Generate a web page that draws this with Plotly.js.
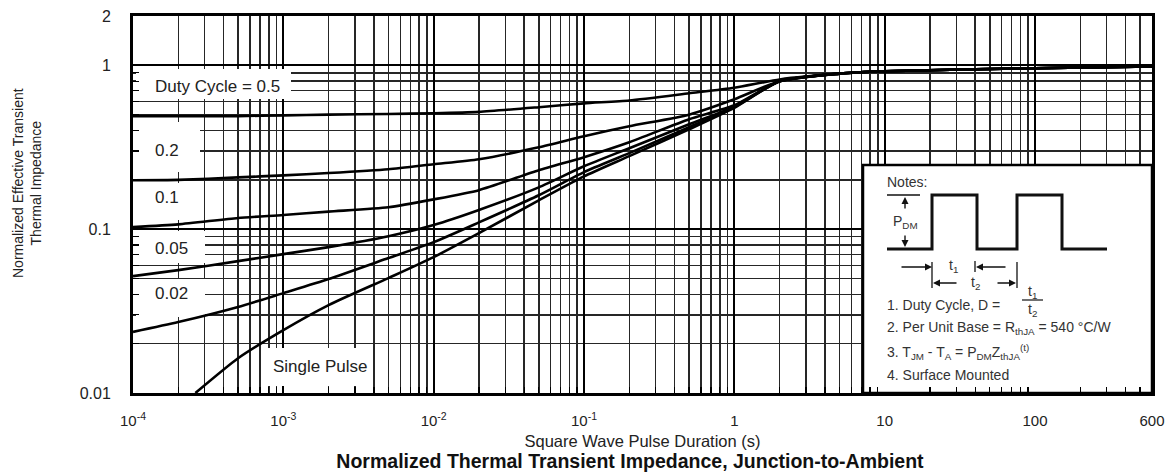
<!DOCTYPE html>
<html>
<head>
<meta charset="utf-8">
<script src="https://cdn.plot.ly/plotly-3.0.1.min.js"></script>
<style>html,body{margin:0;padding:0;background:#fff;}#chart{width:1168px;height:474px;}</style>
</head>
<body>
<div id="chart"></div>
<script>
// ---- data ----
const pulseDuration = [1e-4, 2e-4, 5e-4, 1e-3, 2e-3, 5e-3, 1e-2, 2e-2, 5e-2, 0.1, 0.2, 0.5, 1, 2, 5, 10, 100, 600];
const duty05 = [0.49, 0.49, 0.49, 0.495, 0.50, 0.505, 0.51, 0.52, 0.555, 0.586, 0.61, 0.675, 0.73, 0.82, 0.89, 0.92, 0.96, 0.985];
const duty02 = [0.199, 0.20, 0.207, 0.213, 0.22, 0.232, 0.249, 0.267, 0.316, 0.369, 0.425, 0.50, 0.62, 0.80, 0.89, 0.92, 0.96, 0.985];
const duty01 = [0.103, 0.107, 0.117, 0.122, 0.128, 0.136, 0.152, 0.173, 0.229, 0.275, 0.339, 0.469, 0.57, 0.80, 0.89, 0.92, 0.96, 0.985];
const duty005 = [0.0517, 0.0562, 0.0638, 0.0704, 0.0777, 0.0906, 0.106, 0.131, 0.18, 0.242, 0.312, 0.437, 0.56, 0.80, 0.89, 0.92, 0.96, 0.985];
const duty002 = [0.0236, 0.0271, 0.0335, 0.0407, 0.0496, 0.0666, 0.0833, 0.11, 0.161, 0.223, 0.291, 0.419, 0.555, 0.80, 0.89, 0.92, 0.96, 0.985];
const singleDuration = [2.6e-4, 5e-4, 1e-3, 2e-3, 5e-3, 1e-2, 2e-2, 5e-2, 0.1, 0.2, 0.5, 1, 2, 5, 10, 100, 600];
const singlePulse = [0.01, 0.0163, 0.0242, 0.0344, 0.0503, 0.0675, 0.0945, 0.15, 0.21, 0.279, 0.407, 0.55, 0.80, 0.89, 0.92, 0.96, 0.985];

const xTickVals = [1e-4, 1e-3, 1e-2, 1e-1, 1, 10, 100, 600];
const xTickText = ['10<sup>-4</sup>', '10<sup>-3</sup>', '10<sup>-2</sup>', '10<sup>-1</sup>', '1', '10', '100', '600'];
const yTickVals = [0.01, 0.1, 1, 2];
const yTickText = ['0.01', '0.1', '1', '2'];

// ---- layout helpers ----
const L = 133, R = 1152, T = 16, B = 393;
const XLO = -4, XHI = Math.log10(600), YLO = -2, YHI = Math.log10(2);
const px = x => (x - L) / (R - L);
const py = y => (B - y) / (B - T);
const dx = x => Math.pow(10, XLO + px(x) * (XHI - XLO));
const dy = y => Math.pow(10, YLO + py(y) * (YHI - YLO));
const FONT = 'Liberation Sans, Arial, Helvetica, sans-serif';
const TXT = '#222';

function minorVals(lo, hi) {
  const v = [];
  for (let e = lo; e < hi; e++) for (let d = 2; d <= 9; d++) v.push(d * Math.pow(10, e));
  return v;
}

const curveLine = {color: '#000', width: 2.6, shape: 'spline', smoothing: 0.6};
const traces = [
  {x: pulseDuration, y: duty05, name: 'D = 0.5'},
  {x: pulseDuration, y: duty02, name: 'D = 0.2'},
  {x: pulseDuration, y: duty01, name: 'D = 0.1'},
  {x: pulseDuration, y: duty005, name: 'D = 0.05'},
  {x: pulseDuration, y: duty002, name: 'D = 0.02'},
  {x: singleDuration, y: singlePulse, name: 'Single Pulse'}
].map(t => Object.assign({type: 'scatter', mode: 'lines', line: curveLine, hoverinfo: 'x+y+name'}, t));

function box(x0, y0, x1, y1, border) {
  return {type: 'rect', xref: 'x', yref: 'y', x0: dx(x0), x1: dx(x1), y0: dy(y1), y1: dy(y0),
    fillcolor: '#fff', line: {color: '#000', width: border ? 2.5 : 0}, layer: 'between'};
}
function seg(pts, w) {
  let d = pts.map((p, i) => (i ? 'L' : 'M') + px(p[0]) + ',' + py(p[1])).join(' ');
  return {type: 'path', xref: 'paper', yref: 'paper', path: d, line: {color: '#111', width: w}, layer: 'above'};
}
function txt(text, x, y, size, anchor, color) {
  return {xref: 'paper', yref: 'paper', x: px(x), y: py(y), text: text, showarrow: false,
    xanchor: anchor || 'left', yanchor: 'middle', font: {family: FONT, size: size, color: color || TXT}};
}
function arrow(tipX, tipY, tailX, tailY) {
  return {xref: 'paper', yref: 'paper', x: px(tipX), y: py(tipY), ax: tailX - tipX, ay: tailY - tipY,
    text: '', showarrow: true, arrowhead: 2, arrowsize: 1, arrowwidth: 1.4, arrowcolor: '#111'};
}

const shapes = [
  box(136, 69, 291, 99),
  box(136, 122, 200, 172),
  box(136, 183, 203, 220),
  box(136, 231, 205, 263),
  box(136, 279, 205, 317),
  box(262, 348, 372, 386),
  box(863, 165, 1152, 393, true),
  // square wave diagram
  seg([[887, 249], [932, 249], [932, 195], [977, 195], [977, 249], [1017, 249], [1017, 195], [1062, 195], [1062, 249], [1107, 249]], 3),
  seg([[887, 195], [920, 195]], 1.3),
  seg([[975, 261], [975, 272]], 1.3),
  seg([[932, 262], [932, 288]], 1.3),
  seg([[1017, 262], [1017, 288]], 1.3),
  seg([[1022, 300], [1043, 300]], 1.2)
];

const notesSize = 14;
const annotations = [
  txt('Duty Cycle = 0.5', 153, 86, 17),
  txt('0.2', 153, 150, 17),
  txt('0.1', 153, 197, 17),
  txt('0.05', 153, 248, 17),
  txt('0.02', 153, 293, 17),
  txt('Single Pulse', 271, 366, 17),
  {xref: 'paper', yref: 'paper', x: px(27), y: py(183), textangle: -90, showarrow: false,
    xanchor: 'center', yanchor: 'middle',
    text: 'Normalized Effective Transient<br>Thermal Impedance', font: {family: FONT, size: 14, color: TXT}},
  txt('Notes:', 885, 182, notesSize, 'left', '#333'),
  txt('P<sub>DM</sub>', 891, 222, notesSize, 'left', '#333'),
  txt('t<sub>1</sub>', 953, 266, notesSize, 'center', '#333'),
  txt('t<sub>2</sub>', 975, 283, notesSize, 'center', '#333'),
  txt('t<sub>1</sub>', 1032, 292, notesSize, 'center', '#333'),
  txt('t<sub>2</sub>', 1032, 310, notesSize, 'center', '#333'),
  txt('1. Duty Cycle, D =', 885, 305, notesSize, 'left', '#333'),
  txt('2. Per Unit Base = R<sub>thJA</sub> = 540 °C/W', 885, 328, notesSize, 'left', '#333'),
  txt('3. T<sub>JM</sub> - T<sub>A</sub> = P<sub>DM</sub>Z<sub>thJA</sub><sup>(t)</sup>', 885, 352, notesSize, 'left', '#333'),
  txt('4. Surface Mounted', 885, 375, notesSize, 'left', '#333'),
  arrow(905, 197, 905, 210),
  arrow(905, 247, 905, 234),
  arrow(932, 267, 900, 267),
  arrow(976, 267, 1007, 267),
  arrow(933, 283, 958, 283),
  arrow(1016, 283, 996, 283)
];

const layout = {
  width: 1168, height: 474,
  margin: {l: L, r: 1168 - R, t: T, b: 474 - B, pad: 0},
  paper_bgcolor: '#fff', plot_bgcolor: '#fff',
  showlegend: false,
  font: {family: FONT, color: TXT, size: 16},
  title: {text: '<b>Normalized Thermal Transient Impedance, Junction-to-Ambient</b>',
    font: {family: FONT, size: 19.5, color: '#111'}, x: 630 / 1168, xanchor: 'center',
    y: 1 - 461 / 474, yref: 'container', yanchor: 'middle'},
  xaxis: {
    type: 'log', range: [XLO, XHI],
    tickvals: xTickVals, ticktext: xTickText, tickfont: {size: 15, color: TXT},
    ticks: '', ticklabelstandoff: 12,
    showgrid: true, gridcolor: '#000', gridwidth: 2,
    showline: true, linecolor: '#000', linewidth: 3, mirror: true,
    zeroline: false,
    minor: {tickvals: minorVals(-4, 3).filter(v => v < 600), showgrid: true, gridcolor: '#262626', gridwidth: 1.5,
      ticks: 'inside', ticklen: 6, tickcolor: '#000', tickwidth: 1.3},
    title: {text: 'Square Wave Pulse Duration (s)', font: {size: 16.5, color: TXT}, standoff: 8}
  },
  yaxis: {
    type: 'log', range: [YLO, YHI],
    tickvals: yTickVals, ticktext: yTickText, tickfont: {size: 16, color: TXT},
    ticks: '', ticklabelstandoff: 16,
    showgrid: true, gridcolor: '#000', gridwidth: 2,
    showline: true, linecolor: '#000', linewidth: 3, mirror: true,
    zeroline: false,
    minor: {tickvals: minorVals(-2, 0), showgrid: true, gridcolor: '#262626', gridwidth: 1.5,
      ticks: 'inside', ticklen: 6, tickcolor: '#000', tickwidth: 1.3}
  },
  shapes: shapes,
  annotations: annotations
};

Plotly.newPlot('chart', traces, layout, {staticPlot: true, displayModeBar: false});
</script>
</body>
</html>
